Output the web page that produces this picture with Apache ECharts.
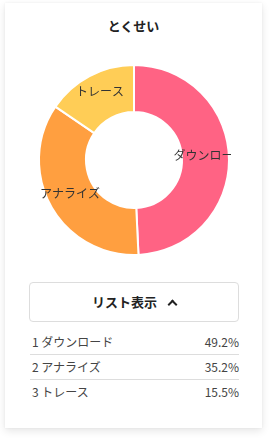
<!DOCTYPE html>
<html>
<head>
<meta charset="utf-8">
<script src="https://cdn.jsdelivr.net/npm/echarts@6/dist/echarts.min.js"></script>
<style>
  html, body { margin:0; padding:0; background:#fff; width:270px; height:439px; overflow:hidden;
    font-family:"Noto Sans CJK JP","Noto Sans",sans-serif; color:#333; }
  #card { position:absolute; left:5px; top:3px; width:257px; height:425px; background:#fff;
    box-shadow:0 3px 8px rgba(0,0,0,0.10), 0 0 2px rgba(0,0,0,0.06); }
  #title { position:absolute; left:5px; width:257px; top:16px; text-align:center; font-size:13px; font-weight:bold; color:#222; line-height:20px; }
  #chart { position:absolute; left:36px; top:60px; width:195px; height:200px; }
  #btn { position:absolute; left:29px; top:282px; width:208px; height:38px; border:1px solid #ddd; border-radius:4px;
    box-sizing:content-box; text-align:center; line-height:38px; font-size:13px; font-weight:bold; color:#222; }
  #btn .chev { display:inline-block; width:5px; height:5px; border-top:2.5px solid #222; border-left:2.5px solid #222;
    transform:rotate(45deg); margin-left:12px; position:relative; top:1px; }
  #list { position:absolute; left:30px; top:330px; width:209px; font-size:12px; color:#444; }
  .row { height:24px; line-height:24px; border-bottom:1px solid #ddd; display:flex; justify-content:space-between; padding-left:2px; }
  .row:last-child { border-bottom:none; }
</style>
</head>
<body>
<div id="card"></div>
<div id="title"></div>
<div id="chart"></div>
<div id="btn"><span id="btnText"></span><span class="chev"></span></div>
<div id="list"></div>
<script>
const titleText = "とくせい";
const buttonText = "リスト表示";
const categories = ["ダウンロード", "アナライズ", "トレース"];
const values = [49.2, 35.2, 15.5];
const colors = ["#FF6384", "#FF9F40", "#FFCD56"];

document.getElementById('title').textContent = titleText;
document.getElementById('btnText').textContent = buttonText;

const list = document.getElementById('list');
categories.forEach((c, i) => {
  const row = document.createElement('div');
  row.className = 'row';
  const l = document.createElement('span');
  l.textContent = (i + 1) + ' ' + c;
  const r = document.createElement('span');
  r.textContent = values[i].toFixed(1) + '%';
  row.appendChild(l); row.appendChild(r);
  list.appendChild(row);
});

const chart = echarts.init(document.getElementById('chart'), null, { renderer: 'canvas' });
chart.setOption({
  animation: false,
  series: [{
    type: 'pie',
    center: [98, 100],
    radius: [48, 95],
    startAngle: 90,
    clockwise: true,
    avoidLabelOverlap: false,
    itemStyle: { borderColor: '#fff', borderWidth: 2 },
    label: {
      show: true,
      position: 'inside',
      formatter: '{b}',
      color: '#333',
      fontSize: 12,
      fontFamily: '"Noto Sans CJK JP", sans-serif',
      offset: [1, -3]
    },
    labelLine: { show: false },
    emphasis: { disabled: true },
    data: categories.map((c, i) => ({ name: c, value: values[i], itemStyle: { color: colors[i] } }))
  }]
});
</script>
</body>
</html>
